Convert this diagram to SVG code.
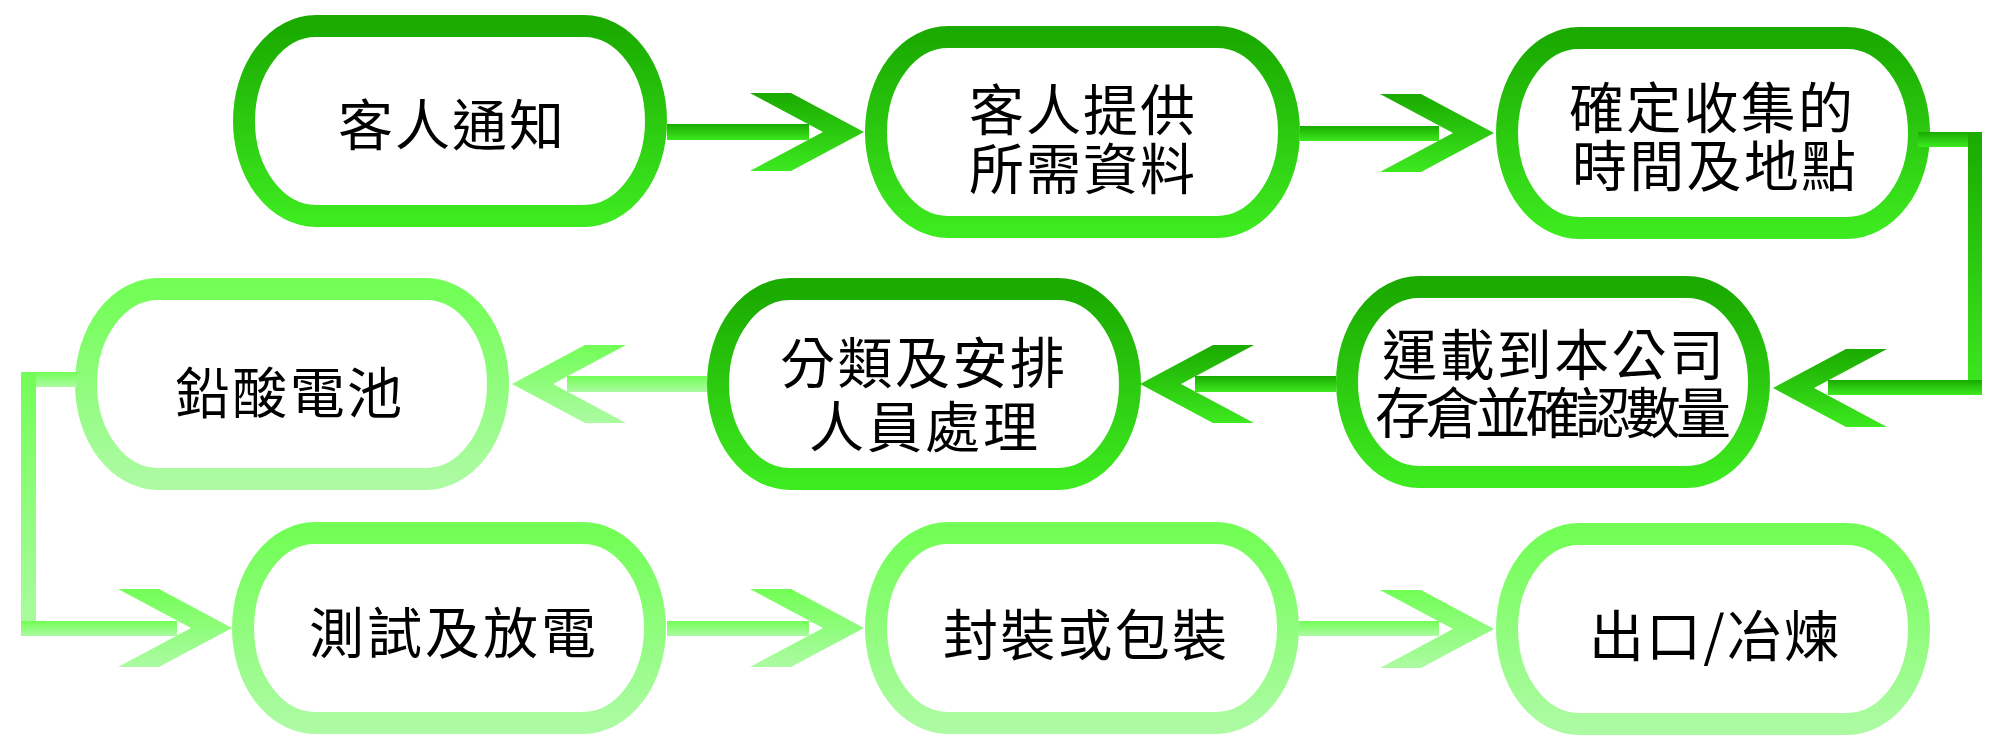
<svg xmlns="http://www.w3.org/2000/svg" width="2000" height="748" viewBox="0 0 2000 748">
<defs>
<linearGradient id="dk" x1="0" y1="0" x2="0" y2="1">
<stop offset="0" stop-color="#1AAA00"/>
<stop offset="1" stop-color="#3DE91F"/>
</linearGradient>
<linearGradient id="lt" x1="0" y1="0" x2="0" y2="1">
<stop offset="0" stop-color="#72FE56"/>
<stop offset="1" stop-color="#ACFBA2"/>
</linearGradient>
<style>
.nd{fill:#FFFFFF;stroke-width:22}
.dk{stroke:url(#dk)}
.lt{stroke:url(#lt)}
.fd{fill:url(#dk)}
.fl{fill:url(#lt)}
text{font-family:"Noto Sans CJK TC","Noto Sans CJK SC",sans-serif;font-size:55px;fill:#000000;text-anchor:start;dominant-baseline:central}
</style>
</defs>

<g id="n1">
<rect class="nd dk" x="244" y="26" width="412" height="190" rx="72" ry="95"/>
<text x="338" y="121" textLength="226" lengthAdjust="spacing">客人通知</text>
</g>
<g id="n2">
<rect class="nd dk" x="876" y="37" width="413" height="190" rx="72" ry="95"/>
<text x="969" y="106" textLength="226" lengthAdjust="spacing">客人提供</text>
<text x="969" y="165" textLength="226" lengthAdjust="spacing">所需資料</text>
</g>
<g id="n3">
<rect class="nd dk" x="1507" y="38" width="412" height="190" rx="72" ry="95"/>
<text x="1569" y="104" textLength="284" lengthAdjust="spacing">確定收集的</text>
<text x="1572" y="162" textLength="284" lengthAdjust="spacing">時間及地點</text>
</g>
<g id="n4">
<rect class="nd dk" x="1347" y="287" width="412" height="190" rx="72" ry="95"/>
<text x="1382" y="351" textLength="342" lengthAdjust="spacing">運載到本公司</text>
<text x="1375" y="409" textLength="356" lengthAdjust="spacing">存倉並確認數量</text>
</g>
<g id="n5">
<rect class="nd dk" x="718" y="289" width="412" height="190" rx="72" ry="95"/>
<text x="780" y="359" textLength="285" lengthAdjust="spacing">分類及安排</text>
<text x="809" y="423" textLength="229" lengthAdjust="spacing">人員處理</text>
</g>
<g id="n6">
<rect class="nd lt" x="86" y="289" width="412" height="190" rx="72" ry="95"/>
<text x="175" y="389" textLength="227" lengthAdjust="spacing">鉛酸電池</text>
</g>
<g id="n7">
<rect class="nd lt" x="243" y="533" width="412" height="190" rx="72" ry="95"/>
<text x="309" y="629" textLength="287" lengthAdjust="spacing">測試及放電</text>
</g>
<g id="n8">
<rect class="nd lt" x="876" y="533" width="412" height="190" rx="72" ry="95"/>
<text x="943" y="631" textLength="284" lengthAdjust="spacing">封裝或包裝</text>
</g>
<g id="n9">
<rect class="nd lt" x="1507" y="534" width="412" height="190" rx="72" ry="95"/>
<text x="1589" y="632" textLength="250" lengthAdjust="spacing">出口/冶煉</text>
</g>

<g id="connectors">
<!-- 1 to 2 -->
<rect class="fd" x="667" y="124" width="142" height="16"/>
<polygon class="fd" points="750,93 791,93 864,132 791,171 750,171 823,132"/>
<!-- 2 to 3 -->
<rect class="fd" x="1300" y="126" width="139" height="15"/>
<polygon class="fd" points="1380,94 1421,94 1494,133 1421,172 1380,172 1453,133"/>
<!-- 3 to 4 -->
<rect class="fd" x="1918" y="132" width="64" height="15"/>
<rect class="fd" x="1968" y="132" width="14" height="263"/>
<rect class="fd" x="1828" y="380" width="154" height="15"/>
<polygon class="fd" points="1887,349 1846,349 1773,388 1846,427 1887,427 1814,388"/>
<!-- 4 to 5 -->
<rect class="fd" x="1195" y="376" width="141" height="16"/>
<polygon class="fd" points="1254,345 1213,345 1140,384 1213,423 1254,423 1181,384"/>
<!-- 5 to 6 -->
<rect class="fl" x="567" y="376" width="140" height="16"/>
<polygon class="fl" points="626,345 585,345 512,384 585,423 626,423 553,384"/>
<!-- 6 to 7 -->
<rect class="fl" x="21" y="372" width="56" height="15"/>
<rect class="fl" x="21" y="372" width="15" height="264"/>
<rect class="fl" x="21" y="621" width="156" height="15"/>
<polygon class="fl" points="118,589 159,589 232,628 159,667 118,667 191,628"/>
<!-- 7 to 8 -->
<rect class="fl" x="667" y="621" width="142" height="15"/>
<polygon class="fl" points="750,589 791,589 864,628 791,667 750,667 823,628"/>
<!-- 8 to 9 -->
<rect class="fl" x="1299" y="621" width="140" height="15"/>
<polygon class="fl" points="1380,590 1421,590 1494,629 1421,668 1380,668 1453,629"/>
</g>
</svg>
